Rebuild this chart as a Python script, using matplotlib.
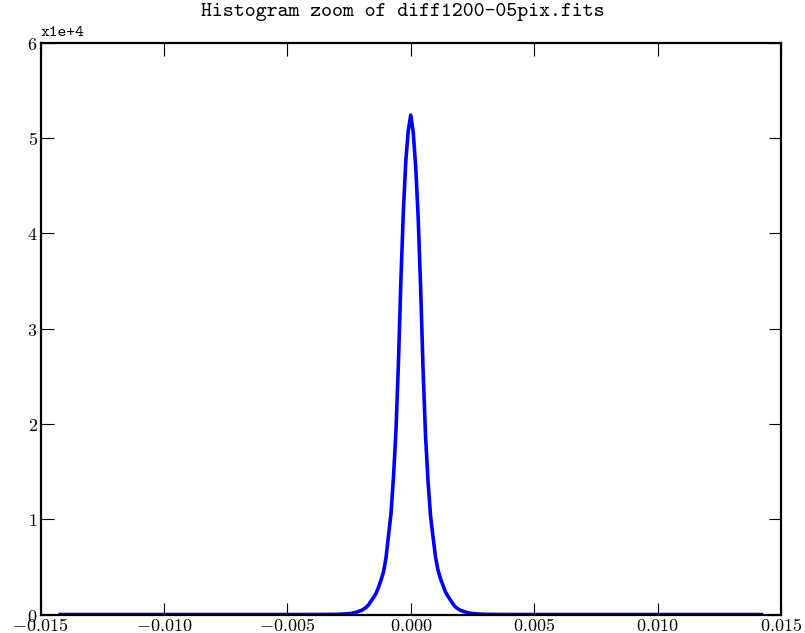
import matplotlib
matplotlib.use('Agg')
import matplotlib.pyplot as plt
from matplotlib.ticker import FuncFormatter

# Histogram of pixel differences
bin_centers = [
    -0.0142, -0.0045, -0.0035, -0.0030, -0.0027, -0.0024, -0.0022,
    -0.0020, -0.0019, -0.0018, -0.0017, -0.0016, -0.0015, -0.0014,
    -0.0013, -0.0012, -0.0011, -0.0010, -0.0009, -0.0008, -0.0007,
    -0.0006, -0.0005, -0.0004, -0.0003, -0.0002, -0.0001, 0.0000,
    0.0001, 0.0002, 0.0003, 0.0004, 0.0005, 0.0006, 0.0007,
    0.0008, 0.0009, 0.0010, 0.0011, 0.0012, 0.0013, 0.0014,
    0.0015, 0.0016, 0.0017, 0.0018, 0.0019, 0.0020, 0.0022,
    0.0024, 0.0027, 0.0030, 0.0035, 0.0045, 0.0142,
]
counts = [
    0, 0, 8, 20, 50, 120, 250,
    430, 580, 760, 1050, 1450, 1800, 2250,
    2900, 3650, 4500, 6000, 8300, 10600, 14400,
    19200, 26300, 35000, 42300, 47600, 50800, 52400,
    50600, 47000, 41700, 34300, 25600, 18700, 14000,
    10400, 8200, 6100, 4700, 3800, 3100, 2400,
    1950, 1550, 1150, 820, 620, 460, 270,
    130, 55, 22, 8, 0, 0,
]

y_ticks = [0, 10000, 20000, 30000, 40000, 50000, 60000]
x_ticks = [-0.015, -0.010, -0.005, 0.000, 0.005, 0.010, 0.015]

plt.rcParams['mathtext.fontset'] = 'cm'

fig = plt.figure(figsize=(8.05, 6.33), dpi=100)
ax = fig.add_axes([40.5 / 805, 1 - 614.5 / 633, 740.5 / 805, 571.8 / 633])

ax.plot(bin_centers, counts, color='#0000ff', linewidth=2.6)

ax.set_xlim(-0.015, 0.015)
ax.set_ylim(0, 60000)
ax.set_xticks(x_ticks)
ax.set_yticks(y_ticks)
ax.xaxis.set_major_formatter(FuncFormatter(lambda v, p: r'$%.3f$' % v))
ax.yaxis.set_major_formatter(FuncFormatter(lambda v, p: r'$%d$' % round(v / 1e4)))

ax.tick_params(direction='in', length=9, width=0.8, top=True, right=True,
               labelsize=13, pad=2)
for s in ax.spines.values():
    s.set_linewidth(1.6)

ax.text(0.0, 1.004, 'x1e+4', transform=ax.transAxes, family='cmtt10',
        fontsize=12, ha='left', va='bottom')
fig.text(0.5, 0.981, 'Histogram zoom of diff1200-05pix.fits', family='cmtt10',
         fontsize=15, ha='center', va='center')

plt.savefig('out.png', dpi=100)
